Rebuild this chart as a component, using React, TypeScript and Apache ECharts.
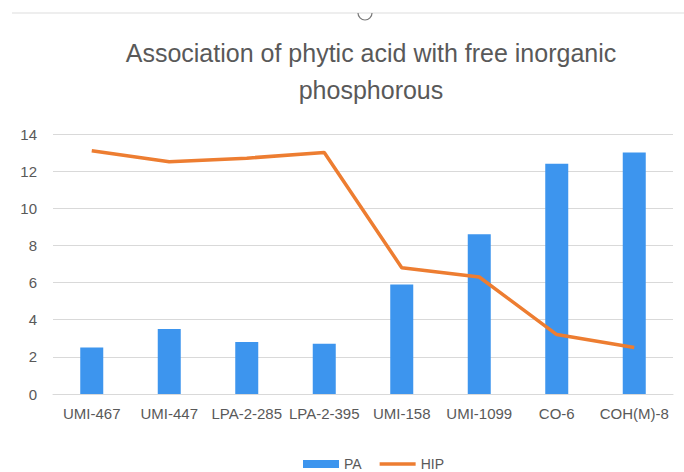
import React, { useEffect, useRef } from "react";
import * as echarts from "echarts";

const categories = ["UMI-467", "UMI-447", "LPA-2-285", "LPA-2-395", "UMI-158", "UMI-1099", "CO-6", "COH(M)-8"];
const paValues = [2.5, 3.5, 2.8, 2.7, 5.9, 8.6, 12.4, 13.0];
const hipValues = [13.1, 12.5, 12.7, 13.0, 6.8, 6.3, 3.2, 2.5];
const yTicks = { min: 0, max: 14, interval: 2 };

export default function App() {
  const ref = useRef<HTMLDivElement>(null);
  useEffect(() => {
    if (!ref.current) return;
    const chart = echarts.init(ref.current, undefined, { renderer: "svg" });
    const font = "'Liberation Sans', Arial, sans-serif";
    chart.setOption({
      animation: false,
      backgroundColor: "#ffffff",
      textStyle: { fontFamily: font },
      title: {
        text: "Association of phytic acid with free inorganic\nphosphorous",
        left: 366,
        top: 29,
        textAlign: "center",
        textStyle: { fontSize: 25, fontWeight: "normal", color: "#595959", lineHeight: 37, fontFamily: font },
      },
      graphic: [
        { type: "line", shape: { x1: 12, y1: 13, x2: 684, y2: 13 }, style: { stroke: "#dddddd", lineWidth: 1 } },
        { type: "arc", shape: { cx: 365, cy: 13, r: 7, startAngle: 0, endAngle: Math.PI }, style: { stroke: "#777777", lineWidth: 1.2, fill: "none" } },
      ],
      legend: {
        left: 298,
        top: 452,
        itemWidth: 36,
        itemHeight: 8,
        itemGap: 18,
        textStyle: { fontSize: 14, color: "#595959", fontFamily: font },
        data: [
          { name: "PA", icon: "rect" },
          { name: "HIP", icon: "path://M0,0 L10,0 L10,1 L0,1 Z" },
        ],
      },
      grid: { left: 53, right: 11, top: 134, bottom: 78, containLabel: false },
      xAxis: {
        type: "category",
        data: categories,
        axisLine: { lineStyle: { color: "#d9d9d9" } },
        axisTick: { show: false },
        axisLabel: { interval: 0, fontSize: 15, color: "#595959", margin: 12, fontFamily: font },
      },
      yAxis: {
        type: "value",
        min: yTicks.min,
        max: yTicks.max,
        interval: yTicks.interval,
        axisLine: { show: false },
        axisTick: { show: false },
        axisLabel: { fontSize: 15, color: "#595959", margin: 16, fontFamily: font },
        splitLine: { lineStyle: { color: "#d9d9d9" } },
      },
      series: [
        {
          name: "PA",
          type: "bar",
          data: paValues,
          barWidth: 23,
          itemStyle: { color: "#3d95ee" },
        },
        {
          name: "HIP",
          type: "line",
          data: hipValues,
          symbol: "none",
          lineStyle: { color: "#ed7d31", width: 3.5 },
          itemStyle: { color: "#ed7d31" },
        },
      ],
    });
    return () => chart.dispose();
  }, []);
  return <div ref={ref} style={{ width: 684, height: 472, position: "absolute", left: 0, top: 0 }} />;
}
